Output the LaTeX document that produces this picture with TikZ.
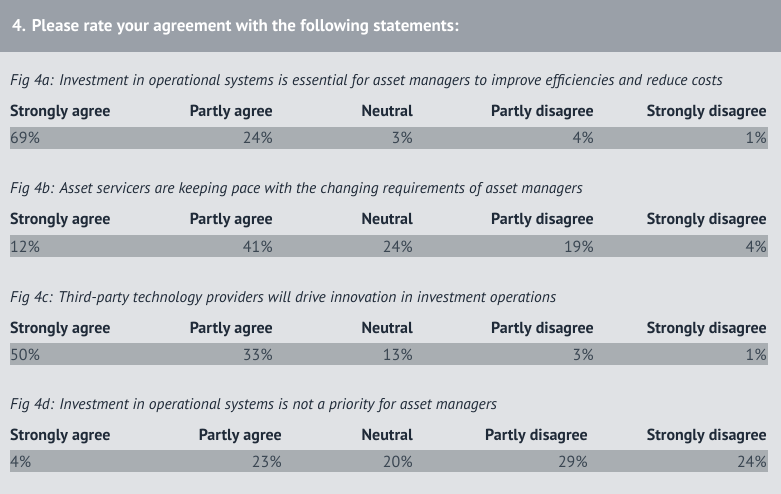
\documentclass[tikz,border=0pt]{standalone}
\usepackage{fontspec}
\setmainfont{PT Sans}
\usetikzlibrary{positioning}
\definecolor{headbar}{HTML}{9AA0A8}
\definecolor{pagebg}{HTML}{E0E2E5}
\definecolor{rowbar}{HTML}{A9AEB2}
\definecolor{ink}{HTML}{1F2A38}
\definecolor{pctink}{HTML}{3A4652}
\begin{document}
\begin{tikzpicture}[x=1pt,y=-1pt,
  figtitle/.style={anchor=base west,inner sep=0pt,font=\fontsize{15.5}{18}\selectfont\itshape,text=ink},
  colhead/.style={anchor=base east,inner sep=0pt,font=\fontsize{16}{18}\selectfont\bfseries,text=ink},
  pct/.style={anchor=base east,inner sep=0pt,font=\fontsize{16}{18}\selectfont,text=pctink}]
\fill[pagebg] (0,0) rectangle (781,494);
\fill[headbar] (0,0) rectangle (781,52);
\useasboundingbox (0,0) rectangle (781,494);
\node[anchor=base west,inner sep=0pt,text=white,font=\fontsize{17}{20}\selectfont\bfseries] (head) at (12,32) {4. Please rate your agreement with the following statements:};

% one block per figure: y of title, label, list of percentages, column ends
\foreach \fy/\fig/\ftext/\pa/\pb/\pc/\pd/\pe/\xb/\xd in {
  86/a/{Investment in operational systems is essential for asset managers to improve efficiencies and reduce costs}/69/24/3/4/1/273/594,
  194/b/{Asset servicers are keeping pace with the changing requirements of asset managers}/12/41/24/19/4/273/594,
  302/c/{Third-party technology providers will drive innovation in investment operations}/50/33/13/3/1/273/594,
  409/d/{Investment in operational systems is not a priority for asset managers}/4/23/20/29/24/282/588} {
  \fill[rowbar] (10,\fy+41) rectangle (768,\fy+63);
  \node[figtitle] (t\fig) at (10,\fy) {Fig 4\fig: \ftext};
  \node[colhead,anchor=base west] (sa\fig) at (10,\fy+31) {Strongly agree};
  \node[colhead] (pa\fig) at (\xb,\fy+31) {Partly agree};
  \node[colhead] (ne\fig) at (413,\fy+31) {Neutral};
  \node[colhead] (pd\fig) at (\xd,\fy+31) {Partly disagree};
  \node[colhead] (sd\fig) at (767,\fy+31) {Strongly disagree};
  \node[pct,anchor=base west] (v1\fig) at (10,\fy+58) {\pa\%};
  \node[pct] (v2\fig) at (\xb,\fy+58) {\pb\%};
  \node[pct] (v3\fig) at (413,\fy+58) {\pc\%};
  \node[pct] (v4\fig) at (\xd,\fy+58) {\pd\%};
  \node[pct] (v5\fig) at (767,\fy+58) {\pe\%};
}
\end{tikzpicture}
\end{document}
